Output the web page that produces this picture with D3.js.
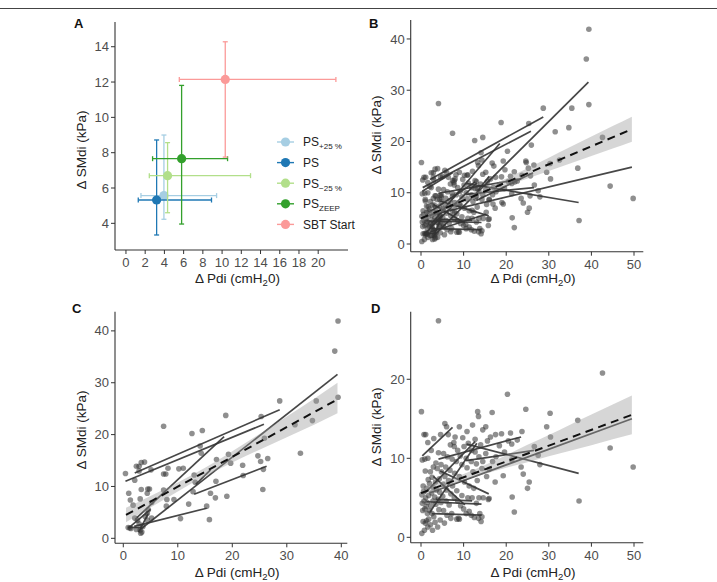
<!DOCTYPE html>
<html><head><meta charset="utf-8">
<script src="https://cdn.jsdelivr.net/npm/d3@7"></script>
<style>body{margin:0;background:#fff}svg{display:block;font-family:"Liberation Sans",Arial,sans-serif}</style>
</head><body><svg id="c" width="717" height="582"></svg>
<script>
// ---------- Panel A data ----------
const aBase   = ["PS","PS","PS","PS","SBT Start"];
const aSub    = ["+25 %","","\u221225 %","ZEEP",""];
const aColors = ["#a6cee3","#1f78b4","#b2df8a","#33a02c","#fb9a99"];
const aX   = [3.95, 3.19, 4.33, 5.79, 10.33];
const aY   = [5.57, 5.32, 6.70, 7.66, 12.15];
const aXlo = [1.56, 1.28, 2.43, 2.77, 5.55];
const aXhi = [9.43, 8.90, 12.96, 10.57, 21.84];
const aYlo = [4.23, 3.34, 4.60, 3.96, 7.75];
const aYhi = [9.00, 8.72, 8.57, 11.81, 14.28];
const aXTicks = [0,2,4,6,8,10,12,14,16,18,20];
const aYTicks = [4,6,8,10,12,14];

// ---------- Panel C data (subset 1) ----------
const cPoints = [[0.4,12.5],[1.0,8.7],[1.8,6.4],[2.1,11.2],[2.4,13.9],[2.9,13.9],[3.3,14.6],[3.9,14.7],[2.9,13.0],[3.3,9.4],[4.5,9.5],[4.8,9.5],[4.4,8.7],[3.1,7.6],[1.3,7.4],[5.2,6.9],[5.1,13.2],[7.4,21.6],[7.4,12.4],[7.8,12.4],[8.2,13.5],[7.9,6.2],[7.4,9.3],[8.0,7.5],[9.3,7.5],[10.2,13.4],[10.5,3.8],[11.0,13.5],[12.0,6.6],[12.6,20.2],[13.0,12.2],[13.2,10.8],[12.8,9.0],[14.5,20.8],[14.1,17.8],[14.3,16.4],[15.3,6.2],[15.8,3.6],[16.0,8.7],[16.9,7.8],[17.1,15.2],[17.0,11.0],[18.8,23.7],[19.0,8.1],[19.3,16.2],[19.7,14.5],[21.9,14.1],[22.0,12.1],[24.7,15.9],[25.2,14.8],[25.3,23.5],[25.6,9.4],[25.7,13.3],[25.9,19.3],[26.5,15.4],[28.7,26.5],[31.5,21.9],[32.5,16.4],[34.7,22.7],[35.4,26.5],[38.8,36.1],[39.4,41.9],[39.4,27.2],[0.9,2.1],[1.2,2.0],[1.4,1.9],[2.6,3.5],[3.1,1.6],[3.4,1.2],[3.2,1.0],[4.4,3.5],[2.4,1.7],[4.6,5.5],[4.4,4.8],[5.2,3.9],[2.1,3.9],[3.6,2.3],[2.9,2.8],[4.0,4.2]];
const cLines = [[0.4,11.0,25.8,22.0],[2.1,12.6,28.7,24.8],[3.1,1.7,39.3,31.6],[2.5,4.0,18.5,19.6],[13.0,8.5,26.3,13.9],[13.3,10.4,16.0,13.2],[2.0,2.3,15.3,5.8],[1.0,2.0,5.0,5.6],[2.8,1.2,4.6,4.8],[0.9,2.1,3.3,2.1]];
const cFit = [0.5, 4.5, 39.3, 26.8];
const cBandX  = [0.5, 5, 10, 15, 20, 25, 30, 35, 39.3];
const cBandLo = [3.1, 5.95, 9.05, 11.95, 14.6, 17.1, 19.5, 21.9, 24.1];
const cBandHi = [5.9, 8.15, 10.75, 13.6, 16.8, 20.1, 23.5, 26.9, 30.0];
const cXTicks = [0,10,20,30,40];
const cYTicks = [0,10,20,30,40];

// ---------- Panel D data (subset 2) ----------
const dPoints = [[4.1,27.4],[42.6,20.8],[20.3,18.1],[24.6,16.2],[30.3,15.7],[36.8,14.8],[16.7,15.8],[13.3,15.9],[13.5,15.3],[15.2,14.0],[0.1,15.9],[5.6,14.4],[6.0,14.0],[9.0,14.0],[4.6,13.0],[0.7,13.0],[1.1,13.0],[1.6,12.0],[6.4,13.0],[16.3,12.7],[17.5,13.0],[18.9,13.1],[21.0,13.2],[23.7,13.4],[22.6,12.3],[21.3,11.8],[29.5,14.0],[30.4,12.7],[44.4,11.3],[49.8,8.9],[37.1,4.6],[21.4,5.1],[21.9,3.2],[25.0,6.2],[25.4,7.0],[24.0,8.0],[23.5,8.9],[21.3,9.8],[27.9,9.2],[27.5,10.4],[26.6,11.5],[19.3,7.8],[17.4,7.0],[16.0,4.9],[7.7,12.0],[7.8,11.5],[8.6,11.0],[10.1,11.5],[11.1,11.9],[12.7,12.4],[12.7,10.8],[13.6,10.2],[14.3,8.7],[15.4,7.7],[0.3,9.8],[0.9,9.9],[1.6,10.0],[4.1,10.7],
[0.2,0.5],[0.8,0.9],[1.0,1.8],[1.3,2.1],[0.5,2.0],[1.8,2.3],[2.2,1.6],[1.5,3.0],[0.4,3.4],[0.9,3.6],[1.2,3.9],[2.0,3.4],[2.6,3.0],[3.3,1.9],[3.0,2.6],[0.3,4.3],[0.7,4.6],[1.5,4.4],[2.3,4.0],[2.8,4.6],[3.5,4.2],[4.2,3.5],[1.1,5.0],[0.2,5.4],[0.6,5.8],[1.8,5.3],[2.5,5.6],[3.2,5.1],[4.0,4.8],[4.7,4.4],[5.3,3.4],[6.1,2.8],[1.3,6.2],[0.5,6.5],[2.0,6.8],[2.9,6.3],[3.6,6.0],[4.4,5.7],[5.1,5.2],[5.9,4.6],[6.6,4.1],[7.2,3.0],[8.4,2.3],[9.0,2.3],[10.6,3.0],[1.7,7.3],[2.6,7.6],[3.4,7.0],[4.3,7.4],[5.2,6.7],[6.0,6.0],[7.0,5.5],[7.8,5.0],[8.6,4.6],[9.3,4.0],[10.0,3.6],[11.3,3.3],[12.5,2.5],[13.8,3.0],[14.3,2.6],[13.0,4.3],[12.0,5.0],[14.6,5.0],[15.8,4.8],[13.6,5.0],[11.0,5.0],[9.6,5.3],[8.4,5.9],[7.4,6.5],[6.5,7.2],[5.6,7.7],[4.8,8.3],[3.8,8.7],[2.9,8.9],[2.2,8.3],[1.0,8.4],[3.5,9.4],[4.7,9.2],[5.8,8.9],[6.8,8.5],[7.9,8.1],[9.0,7.7],[10.2,7.0],[11.3,6.5],[12.4,6.2],[13.2,7.2],[12.2,8.3],[10.8,8.8],[9.6,9.2],[8.3,9.6],[7.3,9.9],[6.2,10.2],[5.3,10.6],[9.2,10.3],[10.6,10.0],[11.8,9.6],[13.0,9.3],[14.5,9.6],[15.2,10.6],[16.0,8.6],[16.8,9.6],[17.6,10.2],[18.4,11.6],[19.6,10.8],[20.5,12.2],[14.0,11.7],[15.6,12.2],[11.9,11.0],[3.0,12.5],[2.4,11.0],[6.9,11.7],[8.0,12.7],[9.8,12.6],[10.8,13.4],[12.1,14.2],[14.5,13.6],[11.8,2.8],[8.8,2.4],[7.0,2.4],[4.5,2.2],[5.5,1.8],[3.9,1.3],[2.7,0.9],[1.6,1.3],[13.5,2.4],[14.1,2.0]];
const dLines = [[0.3,10.3,7.4,13.9],[4.1,9.9,23.5,12.7],[10.7,11.8,37.0,8.1],[10.6,9.7,26.5,11.0],[2.0,5.6,49.5,15.0],[0.9,5.6,12.7,12.1],[2.1,3.2,13.1,11.9],[4.5,8.4,15.9,5.5],[2.9,7.7,10.3,4.1],[2.5,3.0,14.2,2.8],[1.3,4.5,14.2,4.2],[3.5,4.8,12.0,4.6]];
const dFit = [0, 5.6, 49.5, 15.5];
const dBandX  = [0, 5, 10, 15, 20, 25, 30, 35, 40, 45, 49.5];
const dBandHw = [0.7, 0.45, 0.4, 0.55, 0.8, 1.1, 1.35, 1.65, 1.95, 2.2, 2.45];
const dXTicks = [0,10,20,30,40,50];
const dYTicks = [0,10,20];

// ---------- Panel B data (all patients) ----------
const bPoints = cPoints.concat(dPoints);
const bLines = cLines.concat(dLines);
const bFit = [0, 5.0, 49.5, 22.4];
const bBandX  = [0, 5, 10, 15, 20, 25, 30, 35, 40, 45, 49.5];
const bBandHw = [0.7, 0.5, 0.45, 0.55, 0.75, 1.0, 1.3, 1.6, 1.9, 2.2, 2.45];
const bXTicks = [0,10,20,30,40,50];
const bYTicks = [0,10,20,30,40];

const svg = d3.select("#c");
const TICKC = "#4d4d4d", AXC = "#333";

svg.append("line").attr("x1",0).attr("x2",717).attr("y1",8.5).attr("y2",8.5).attr("stroke","#444").attr("stroke-width",1);

function axes(x, y, xt, yt, ytitleX, ytitleY, xtitleY) {
  const g = svg.append("g");
  const [x0,x1] = x.range(), [y0,y1] = y.range();
  g.append("line").attr("x1",x0).attr("x2",x1).attr("y1",y0).attr("y2",y0).attr("stroke",AXC).attr("stroke-width",1.1);
  g.append("line").attr("x1",x0).attr("x2",x0).attr("y1",y0).attr("y2",y1).attr("stroke",AXC).attr("stroke-width",1.1);
  xt.forEach(v=>{
    g.append("line").attr("x1",x(v)).attr("x2",x(v)).attr("y1",y0).attr("y2",y0+4).attr("stroke",AXC);
    g.append("text").attr("x",x(v)).attr("y",y0+17).attr("text-anchor","middle").attr("font-size",13).attr("fill",TICKC).text(v);
  });
  yt.forEach(v=>{
    g.append("line").attr("x1",x0-4).attr("x2",x0).attr("y1",y(v)).attr("y2",y(v)).attr("stroke",AXC);
    g.append("text").attr("x",x0-6).attr("y",y(v)+4.6).attr("text-anchor","end").attr("font-size",13).attr("fill",TICKC).text(v);
  });
  const xt2 = g.append("text").attr("x",(x0+x1)/2+6).attr("y",xtitleY).attr("text-anchor","middle").attr("font-size",13.5).attr("fill","#222");
  xt2.append("tspan").text("\u0394 Pdi (cmH");
  xt2.append("tspan").attr("font-size",9.5).attr("dy",3).text("2");
  xt2.append("tspan").attr("dy",-3).text("0)");
  g.append("text").attr("transform",`translate(${ytitleX},${ytitleY}) rotate(-90)`).attr("text-anchor","middle").attr("font-size",13.5).attr("fill","#222").text("\u0394 SMdi (kPa)");
}
function label(t,x,y){ svg.append("text").attr("x",x).attr("y",y).attr("font-size",13).attr("font-weight","bold").attr("fill","#111").text(t); }

// ---------- Panel A ----------
{
  const x = d3.scaleLinear().domain([-1.14,23.1]).range([115,348]);
  const y = d3.scaleLinear().domain([2.49,15.4]).range([250,22]);
  axes(x,y,aXTicks,aYTicks,86,150,283);
  label("A",74,28);
  const g = svg.append("g");
  aX.forEach((_,i)=>{
    const c = aColors[i];
    g.append("line").attr("x1",x(aXlo[i])).attr("x2",x(aXhi[i])).attr("y1",y(aY[i])).attr("y2",y(aY[i])).attr("stroke",c).attr("stroke-width",1.3);
    [aXlo[i],aXhi[i]].forEach(v=>g.append("line").attr("x1",x(v)).attr("x2",x(v)).attr("y1",y(aY[i])-2.5).attr("y2",y(aY[i])+2.5).attr("stroke",c).attr("stroke-width",1.3));
    g.append("line").attr("x1",x(aX[i])).attr("x2",x(aX[i])).attr("y1",y(aYlo[i])).attr("y2",y(aYhi[i])).attr("stroke",c).attr("stroke-width",1.3);
    [aYlo[i],aYhi[i]].forEach(v=>g.append("line").attr("x1",x(aX[i])-2.5).attr("x2",x(aX[i])+2.5).attr("y1",y(v)).attr("y2",y(v)).attr("stroke",c).attr("stroke-width",1.3));
    g.append("circle").attr("cx",x(aX[i])).attr("cy",y(aY[i])).attr("r",4.6).attr("fill",c);
  });
  // legend
  const lg = svg.append("g");
  aBase.forEach((b,i)=>{
    const ly = 142 + i*20.6;
    lg.append("line").attr("x1",277).attr("x2",294).attr("y1",ly).attr("y2",ly).attr("stroke",aColors[i]).attr("stroke-width",1.4);
    lg.append("circle").attr("cx",285.5).attr("cy",ly).attr("r",4.6).attr("fill",aColors[i]);
    const t = lg.append("text").attr("x",303).attr("y",ly+4.3).attr("font-size",12).attr("fill","#222");
    t.append("tspan").text(b);
    if (aSub[i]) t.append("tspan").attr("font-size",8).attr("dy",3).text(aSub[i]);
  });
}

function scatterPanel(x,y,pts,lines,fit,bandX,bandLo,bandHi){
  const g = svg.append("g");
  g.selectAll("circle").data(pts).join("circle")
    .attr("cx",d=>x(d[0])).attr("cy",d=>y(d[1])).attr("r",2.8)
    .attr("fill","#333").attr("fill-opacity",0.55);
  g.selectAll("line.pl").data(lines).join("line").attr("class","pl")
    .attr("x1",d=>x(d[0])).attr("y1",d=>y(d[1])).attr("x2",d=>x(d[2])).attr("y2",d=>y(d[3]))
    .attr("stroke","#333").attr("stroke-width",1.7).attr("stroke-opacity",0.9);
  const area = d3.area().x((d,i)=>x(bandX[i])).y0((d,i)=>y(bandLo[i])).y1((d,i)=>y(bandHi[i])).curve(d3.curveMonotoneX);
  g.append("path").attr("d",area(bandX)).attr("fill","#999").attr("fill-opacity",0.4);
  g.append("line").attr("x1",x(fit[0])).attr("y1",y(fit[1])).attr("x2",x(fit[2])).attr("y2",y(fit[3]))
    .attr("stroke","#111").attr("stroke-width",2).attr("stroke-dasharray","8,5.5");
}
function fitAt(fit,v){ return fit[1] + (fit[3]-fit[1])*(v-fit[0])/(fit[2]-fit[0]); }

// ---------- Panel B ----------
{
  const x = d3.scaleLinear().domain([-2.42,52.18]).range([410.7,643.3]);
  const y = d3.scaleLinear().domain([-1.5,43.7]).range([251.7,20]);
  axes(x,y,bXTicks,bYTicks,381,135,283);
  label("B",369,28);
  scatterPanel(x,y,bPoints,bLines,bFit,bBandX,
    bBandX.map((v,i)=>fitAt(bFit,v)-bBandHw[i]), bBandX.map((v,i)=>fitAt(bFit,v)+bBandHw[i]));
}
// ---------- Panel C ----------
{
  const x = d3.scaleLinear().domain([-1.52,41.1]).range([115,347.3]);
  const y = d3.scaleLinear().domain([-0.96,43.7]).range([543.3,311.7]);
  axes(x,y,cXTicks,cYTicks,86,430,577);
  label("C",72,313);
  scatterPanel(x,y,cPoints,cLines,cFit,cBandX,cBandLo,cBandHi);
}
// ---------- Panel D ----------
{
  const x = d3.scaleLinear().domain([-2.42,52.18]).range([410.7,643.3]);
  const y = d3.scaleLinear().domain([-0.68,28.55]).range([542.7,311.7]);
  axes(x,y,dXTicks,dYTicks,381,427,577);
  label("D",371,313);
  scatterPanel(x,y,dPoints,dLines,dFit,dBandX,
    dBandX.map((v,i)=>fitAt(dFit,v)-dBandHw[i]), dBandX.map((v,i)=>fitAt(dFit,v)+dBandHw[i]));
}
</script></body></html>
